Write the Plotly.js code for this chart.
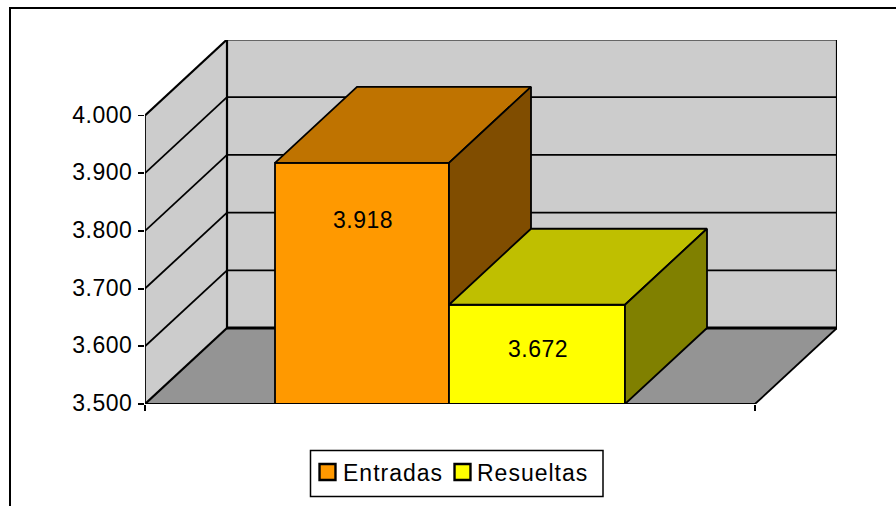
<!DOCTYPE html>
<html>
<head>
<meta charset="utf-8">
<script src="https://cdn.plot.ly/plotly-3.0.1.min.js"></script>
<style>
html,body{margin:0;padding:0;background:#fff;overflow:hidden}
text{letter-spacing:.5px}
.legendtext,.legend2text{letter-spacing:1px}
</style>
</head>
<body>
<div id="chart" style="width:896px;height:506px"></div>
<script>
// Data
var categories = ["Entradas", "Resueltas"];
var values = [3918, 3672];
var labelValues = [3819, 3595];   // height on the value axis where each data label sits
var tickValues = [3500, 3600, 3700, 3800, 3900, 4000];
var tickLabels = ["3.500", "3.600", "3.700", "3.800", "3.900", "4.000"];

// Style and 3D projection
var frontColors = ["#FF9900", "#FFFF00"];
var topColors = ["#BF7300", "#BFBF00"];
var sideColors = ["#804D00", "#808000"];
var wallColor = "#CCCCCC", floorColor = "#949494";
var fontFamily = '"Liberation Sans", Arial, sans-serif';
var fontSize = 23;

var W = 896, H = 506;
var L = 145, R = 837, T = 40, B = 404;
var frontW = 610, pxPerUnit = 0.577;
var base = 3500, top_ = 4000;
var dx = 82 / frontW, dy = 76 / pxPerUnit;         // one unit of depth in axis units
var xMax = (R - L) / frontW, yMax = base + (B - T) / pxPerUnit;
var barLeft = [130 / frontW, 304 / frontW];
var barWidth = [174 / frontW, 176 / frontW];
var labelNudge = 1 / frontW;
var edge = 1.8;

function poly(xs, ys, color, axisX, axisY) {
  return {type: "scatter", mode: "lines", x: xs.concat(xs[0]), y: ys.concat(ys[0]),
    fill: "toself", fillcolor: color, line: {color: "#000", width: edge},
    xaxis: axisX, yaxis: axisY, showlegend: false, hoverinfo: "skip", cliponaxis: false};
}
function shapeLine(x0, y0, x1, y1, w) {
  return {type: "line", xref: "x", yref: "y", layer: "below", x0: x0, y0: y0, x1: x1, y1: y1,
    line: {color: "#000", width: w}};
}
function shapePoly(xs, ys, color) {
  var p = xs.map(function (x, i) { return (i ? "L" : "M") + x + "," + ys[i]; }).join("") + "Z";
  return {type: "path", xref: "x", yref: "y", layer: "below", path: p, fillcolor: color, line: {width: 0}};
}

var traces = [];
categories.forEach(function (name, i) {
  var ax = i === 0 ? "x" : "x2", ay = i === 0 ? "y" : "y2";
  var a = barLeft[i], b = a + barWidth[i], v = values[i];
  traces.push({type: "bar", name: name, x: [(a + b) / 2], y: [v - base], base: [base], width: [barWidth[i]],
    marker: {color: frontColors[i], line: {color: "#000", width: edge}},
    legend: i === 0 ? "legend" : "legend2",
    xaxis: ax, yaxis: ay, cliponaxis: false, hoverinfo: "skip"});
  traces.push(poly([a, b, b + dx, a + dx], [v, v, v + dy, v + dy], topColors[i], ax, ay));
  traces.push(poly([b, b + dx, b + dx, b], [v, v + dy, base + dy, base], sideColors[i], ax, ay));
});

var shapes = [
  shapePoly([dx, xMax, xMax, dx], [base + dy, base + dy, top_ + dy, top_ + dy], wallColor),
  shapePoly([0, dx, dx, 0], [base, base + dy, top_ + dy, top_], wallColor),
  shapePoly([0, 1, 1 + dx, dx], [base, base, base + dy, base + dy], floorColor)
];
tickValues.forEach(function (v) {
  var w = (v === base || v === top_) ? 2.2 : edge;
  shapes.push(shapeLine(0, v, dx, v + dy, w));
  shapes.push(shapeLine(dx, v + dy, xMax, v + dy, v === base ? 3 : w));
});
shapes.push(shapeLine(0, base, 0, top_, edge));
shapes.push(shapeLine(dx, base + dy, dx, top_ + dy, 2.2));
shapes.push(shapeLine(xMax, base + dy, xMax, top_ + dy, 2.2));
shapes.push(shapeLine(0, base, 1, base, 2.2));
shapes.push(shapeLine(1, base, 1 + dx, base + dy, edge));

function px(x) { return (x - L) / (R - L); }
function py(y) { return (B - y) / (B - T); }
// outer chart frame, running off the right and bottom of the picture
shapes.push({type: "rect", xref: "paper", yref: "paper", layer: "above",
  x0: px(10), x1: px(W + 20), y0: py(H + 20), y1: py(8),
  line: {color: "#000", width: 2}, fillcolor: "rgba(0,0,0,0)"});
// legend frame
shapes.push({type: "rect", xref: "paper", yref: "paper", layer: "above",
  x0: px(310.5), x1: px(603), y0: py(496.5), y1: py(450.5),
  line: {color: "#000", width: 1.5}, fillcolor: "rgba(0,0,0,0)"});

var annotations = categories.map(function (name, i) {
  return {xref: i === 0 ? "x" : "x2", yref: i === 0 ? "y" : "y2", x: barLeft[i] + barWidth[i] / 2 + labelNudge, y: labelValues[i],
    text: String(values[i]).replace(/(\d)(\d{3})$/, "$1.$2"), showarrow: false,
    font: {family: fontFamily, size: fontSize, color: "#000"}};
});

var legendBase = {orientation: "v", xanchor: "left", yanchor: "middle", y: py(472),
  bgcolor: "rgba(0,0,0,0)", borderwidth: 0, entrywidth: 130, entrywidthmode: "pixels",
  font: {family: fontFamily, size: fontSize, color: "#000"}};

var layout = {
  width: W, height: H, autosize: false,
  margin: {l: L, r: W - R, t: T, b: H - B, pad: 0, autoexpand: false},
  paper_bgcolor: "#fff", plot_bgcolor: "rgba(0,0,0,0)",
  barmode: "overlay", showlegend: true,
  font: {family: fontFamily, size: fontSize, color: "#000"},
  xaxis: {range: [0, xMax], showgrid: false, zeroline: false, showline: false,
    tickmode: "array", tickvals: [0, 1], ticktext: ["", ""], ticks: "outside", ticklen: 6, tickwidth: 1.8, tickcolor: "#000"},
  yaxis: {range: [base, yMax], showgrid: false, zeroline: false, showline: false,
    tickmode: "array", tickvals: tickValues, ticktext: tickLabels, ticks: "outside", ticklen: 6, tickwidth: 1.8, tickcolor: "#000",
    tickfont: {family: fontFamily, size: fontSize, color: "#000"}, ticklabelstandoff: 1, ticklabelshift: -1},
  xaxis2: {range: [0, xMax], overlaying: "x", anchor: "y2", visible: false},
  yaxis2: {range: [base, yMax], overlaying: "y", anchor: "x2", visible: false},
  legend: Object.assign({}, legendBase, {x: px(303)}),
  legend2: Object.assign({}, legendBase, {x: px(437)}),
  shapes: shapes, annotations: annotations
};
Plotly.newPlot("chart", traces, layout, {displayModeBar: false, staticPlot: true}).then(function () {
  // the reference's legend swatches are larger and sit closer to the text than Plotly's defaults
  var points = document.querySelectorAll(".legendpoints path");
  points[0].setAttribute("transform", "translate(24.5,0) scale(1.33)");
  points[1].setAttribute("transform", "translate(25.5,0) scale(1.33)");
});
</script>
</body>
</html>
